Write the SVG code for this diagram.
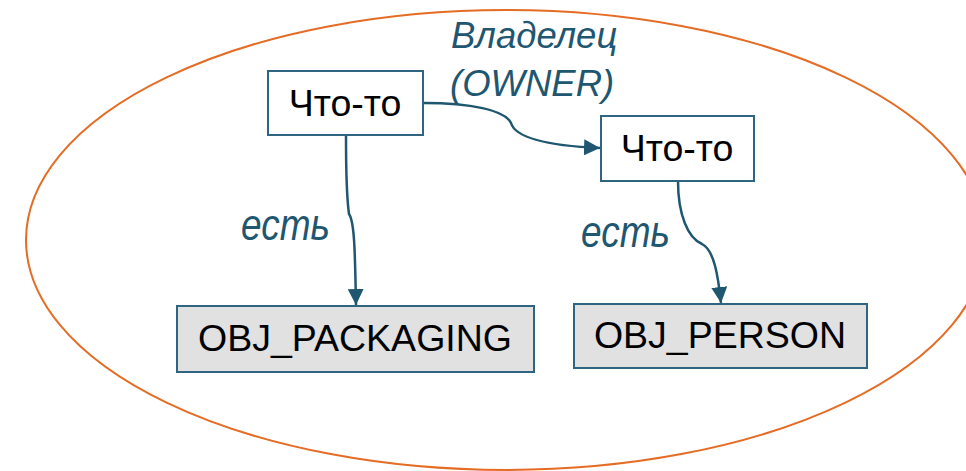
<svg xmlns="http://www.w3.org/2000/svg" width="966" height="471" viewBox="0 0 966 471">
<style>
.box{fill:#ffffff;stroke:#2f6580;stroke-width:2}
.gbox{fill:#e1e1e1;stroke:#2f6580;stroke-width:2}
.t{font-family:"Liberation Sans",Arial,sans-serif;font-size:37.5px;fill:#000;text-anchor:middle}
.lbl{font-family:"Liberation Sans",Arial,sans-serif;font-style:italic;fill:#1f5670}
.conn{fill:none;stroke:#1f5670;stroke-width:2.5}
</style>
<defs>
<marker id="arr" markerUnits="userSpaceOnUse" markerWidth="16" markerHeight="16" viewBox="0 0 16 16" refX="16" refY="8" orient="auto">
<path d="M0,0 L16,8 L0,16 Z" fill="#1f5670"/>
</marker>
</defs>
<ellipse cx="506" cy="240" rx="480" ry="230" fill="none" stroke="#e46c24" stroke-width="2"/>
<g id="connectors">
<path class="conn" d="M424,103 C470,103 505,110 511,123 C516,140 555,146 600,148" marker-end="url(#arr)"/>
<path class="conn" d="M346,136 C346,170 347,200 349,214 C355,222 355,260 356,305" marker-end="url(#arr)"/>
<path class="conn" d="M678,181 C678,215 688,238 702,244 C714,250 718,275 721,303" marker-end="url(#arr)"/>
</g>
<g id="label-owner">
<text class="lbl" x="451" y="48" font-size="36.5">Владелец</text>
<text class="lbl" x="450" y="96" font-size="36.5">(OWNER)</text>
</g>
<g id="label-est1"><text class="lbl" x="241" y="240" font-size="37" transform="matrix(1,0,0,1.2,0,-48)">есть</text></g>
<g id="label-est2"><text class="lbl" x="581" y="247" font-size="37" transform="matrix(1,0,0,1.2,0,-49.4)">есть</text></g>
<g id="node-chto1">
<rect class="box" x="268" y="71" width="155" height="64"/>
<text class="t" x="345" y="116">Что-то</text>
</g>
<g id="node-chto2">
<rect class="box" x="601" y="116" width="153" height="65"/>
<text class="t" x="677" y="161">Что-то</text>
</g>
<g id="node-packaging">
<rect class="gbox" x="177" y="306" width="357" height="66"/>
<text class="t" x="355" y="351">OBJ_PACKAGING</text>
</g>
<g id="node-person">
<rect class="gbox" x="574" y="304" width="293" height="64"/>
<text class="t" x="720" y="348">OBJ_PERSON</text>
</g>
</svg>
